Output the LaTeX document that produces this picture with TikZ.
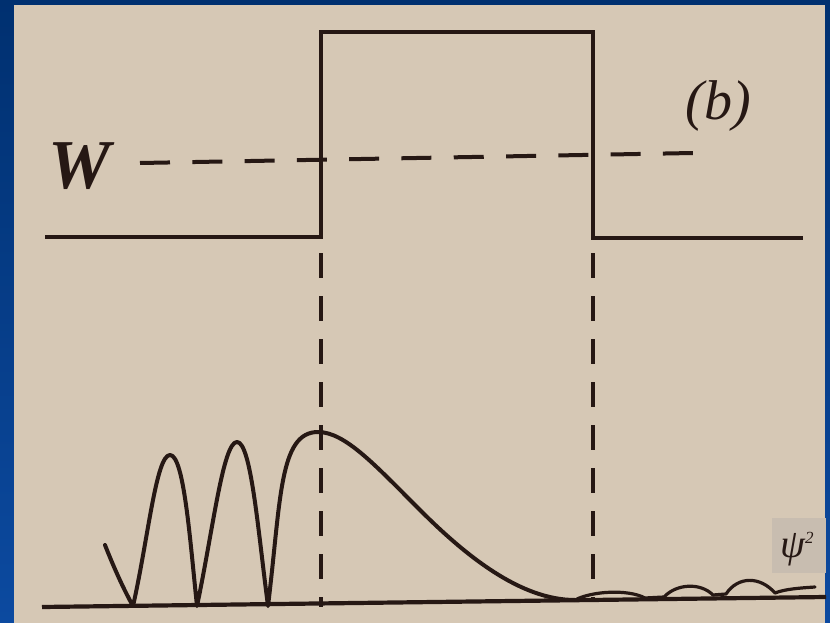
\documentclass[tikz,border=0pt]{standalone}
\usepackage{fontspec}
\newfontfamily\tms{Liberation Serif}
\definecolor{navy}{RGB}{0,48,112}
\definecolor{bluelow}{RGB}{12,74,160}
\definecolor{paper}{RGB}{214,200,181}
\definecolor{labelbox}{RGB}{200,189,176}
\definecolor{ink}{RGB}{38,24,20}
\begin{document}
\begin{tikzpicture}[x=1pt,y=-1pt,
  inkline/.style={draw=ink,line width=4.2pt,line join=miter},
  curveline/.style={draw=ink,line width=4pt,line cap=round,line join=round},
  tailline/.style={draw=ink,line width=3.2pt,line cap=round,line join=round},
  levelline/.style={draw=ink,line width=4pt,dash pattern=on 30pt off 22.3pt},
  dropline/.style={draw=ink,line width=4.2pt,dash pattern=on 25pt off 18pt},
  lbl/.style={inner sep=0pt,text=ink}]
\useasboundingbox (0,0) rectangle (830,623);
\shade[top color=navy,bottom color=bluelow] (0,0) rectangle (830,623);
\fill[paper] (14,5) rectangle (825,623);

% coordinates of the barrier
\coordinate (bl0) at (45,237);
\coordinate (bl1) at (321,237);
\coordinate (tl) at (321,32);
\coordinate (tr) at (593,32);
\coordinate (br1) at (593,238);
\coordinate (br0) at (803,238);
\draw[inkline] (bl0) -- (bl1) -- (tl) -- (tr) -- (br1) -- (br0);

% energy level W
\coordinate (w0) at (140,163);
\coordinate (w1) at (693,153);
\draw[levelline] (w0) -- (w1);

% vertical dashed guides
\coordinate (dl0) at (321,253);
\coordinate (dl1) at (321,607);
\coordinate (dr0) at (593,253);
\coordinate (dr1) at (593,600);
\draw[dropline] (dl0) -- (dl1);
\draw[dropline] (dr0) -- (dr1);

% baseline
\coordinate (ax0) at (42,607);
\coordinate (ax1) at (826,597);
\draw[inkline] (ax0) -- (ax1);

% psi^2 curve
\draw[curveline] (105,545) .. controls (114,568) and (124,590) .. (133,606)
  .. controls (148,540) and (156,455) .. (170,455)
  .. controls (184,455) and (190,540) .. (197,606)
  .. controls (213,530) and (223,442) .. (237,442)
  .. controls (251,442) and (258,530) .. (268,606)
  .. controls (281,500) and (279,432) .. (318,432)
  .. controls (345,432) and (375,465) .. (420,510)
  .. controls (465,555) and (520,600) .. (575,600);
\draw[tailline] (575,600) .. controls (592,591) and (628,589) .. (645,598)
  -- (664,597) .. controls (676,584) and (700,582) .. (713,595)
  -- (726,594) .. controls (738,576) and (760,576) .. (775,593)
  .. controls (785,589) and (800,588) .. (815,587);

% labels
\node[lbl,font={\tms\bfseries\itshape\fontsize{70}{70}\selectfont}] (wlab) at (80,166) {W};
\node[lbl,font={\tms\itshape\fontsize{56}{56}\selectfont}] (blab) at (718,106) {(b)};
\node[fill=labelbox,minimum width=54pt,minimum height=55pt,inner sep=0pt] (psibox) at (799,545.5) {};
\node[lbl,font={\tms\itshape\fontsize{40}{40}\selectfont}] (psilab) at (797,549) {ψ\raisebox{14pt}{\fontsize{17}{17}\selectfont 2}};
\end{tikzpicture}
\end{document}
